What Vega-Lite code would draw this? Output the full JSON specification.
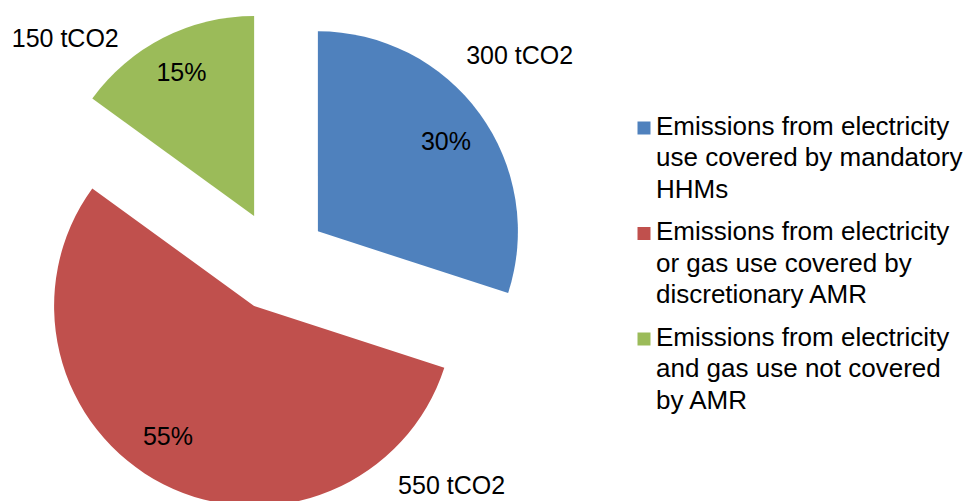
{
  "$schema": "https://vega.github.io/schema/vega-lite/v6.json",
  "width": 554,
  "height": 522,
  "autosize": {"type": "none"},
  "padding": {"left": 0, "top": 0, "right": 416, "bottom": 0},
  "background": "white",
  "config": {
    "view": {"stroke": null},
    "style": {"guide-label": {"lineHeight": 31.5, "dy": 6.5}}
  },
  "data": {
    "values": [
      {"category": "Emissions from electricity use covered by mandatory HHMs", "tCO2": 300, "share": 0.30, "label": "300 tCO2", "order": 1},
      {"category": "Emissions from electricity or gas use covered by discretionary AMR", "tCO2": 550, "share": 0.55, "label": "550 tCO2", "order": 2},
      {"category": "Emissions from electricity and gas use not covered by AMR", "tCO2": 150, "share": 0.15, "label": "150 tCO2", "order": 3}
    ]
  },
  "encoding": {
    "theta": {"field": "tCO2", "type": "quantitative", "stack": true},
    "order": {"field": "order", "type": "quantitative"}
  },
  "layer": [
    {
      "mark": {"type": "arc", "outerRadius": 200, "xOffset": 40.9, "yOffset": -29.7},
      "encoding": {
        "color": {
          "field": "category", "type": "nominal",
          "scale": {
            "domain": ["Emissions from electricity use covered by mandatory HHMs", "Emissions from electricity or gas use covered by discretionary AMR", "Emissions from electricity and gas use not covered by AMR"],
            "range": ["#4F81BD", "#C0504D", "#9BBB59"]
          },
          "legend": {
            "orient": "none", "legendX": 631, "legendY": 115, "title": null, "padding": 0,
            "symbolType": "square", "symbolSize": 169, "symbolStrokeWidth": 0,
            "labelFont": "Liberation Sans", "labelFontSize": 26, "labelColor": "#000000",
            "labelLimit": 400, "labelOffset": -1, "rowPadding": 15.5, "labelBaseline": "alphabetic",
            "labelExpr": "datum.label == 'Emissions from electricity use covered by mandatory HHMs' ? ['Emissions from electricity', 'use covered by mandatory', 'HHMs'] : datum.label == 'Emissions from electricity or gas use covered by discretionary AMR' ? ['Emissions from electricity', 'or gas use covered by', 'discretionary AMR'] : ['Emissions from electricity', 'and gas use not covered', 'by AMR']"
          }
        },
        "opacity": {"condition": {"test": "datum.order == 1", "value": 1}, "value": 0}
      }
    },
    {
      "mark": {"type": "arc", "outerRadius": 200, "xOffset": -22.9, "yOffset": 45},
      "encoding": {
        "color": {"field": "category", "type": "nominal"},
        "opacity": {"condition": {"test": "datum.order == 2", "value": 1}, "value": 0}
      }
    },
    {
      "mark": {"type": "arc", "outerRadius": 200, "xOffset": -22.9, "yOffset": -45},
      "encoding": {
        "color": {"field": "category", "type": "nominal"},
        "opacity": {"condition": {"test": "datum.order == 3", "value": 1}, "value": 0}
      }
    },
    {
      "mark": {"type": "text", "radius": 156, "thetaOffset": 0.02, "xOffset": 40.9, "yOffset": -29.7, "font": "Liberation Sans", "fontSize": 25, "color": "#000000", "align": "center", "baseline": "middle"},
      "encoding": {"text": {"condition": {"test": "datum.order == 1", "field": "share", "format": ".0%"}, "value": ""}}
    },
    {
      "mark": {"type": "text", "radius": 157, "thetaOffset": 0.11, "xOffset": -22.9, "yOffset": 45, "font": "Liberation Sans", "fontSize": 25, "color": "#000000", "align": "center", "baseline": "middle"},
      "encoding": {"text": {"condition": {"test": "datum.order == 2", "field": "share", "format": ".0%"}, "value": ""}}
    },
    {
      "mark": {"type": "text", "radius": 160, "thetaOffset": 0, "xOffset": -22.9, "yOffset": -45, "font": "Liberation Sans", "fontSize": 25, "color": "#000000", "align": "center", "baseline": "middle"},
      "encoding": {"text": {"condition": {"test": "datum.order == 3", "field": "share", "format": ".0%"}, "value": ""}}
    },
    {
      "mark": {"type": "text", "radius": 267, "thetaOffset": -0.086, "xOffset": 40.9, "yOffset": -29.7, "font": "Liberation Sans", "fontSize": 25, "color": "#000000", "align": "center", "baseline": "middle"},
      "encoding": {"text": {"condition": {"test": "datum.order == 1", "field": "label"}, "value": ""}}
    },
    {
      "mark": {"type": "text", "radius": 267, "thetaOffset": -1.304, "xOffset": -22.9, "yOffset": 45, "font": "Liberation Sans", "fontSize": 25, "color": "#000000", "align": "center", "baseline": "middle"},
      "encoding": {"text": {"condition": {"test": "datum.order == 2", "field": "label"}, "value": ""}}
    },
    {
      "mark": {"type": "text", "radius": 259, "thetaOffset": -0.346, "xOffset": -22.9, "yOffset": -45, "font": "Liberation Sans", "fontSize": 25, "color": "#000000", "align": "center", "baseline": "middle"},
      "encoding": {"text": {"condition": {"test": "datum.order == 3", "field": "label"}, "value": ""}}
    }
  ]
}
